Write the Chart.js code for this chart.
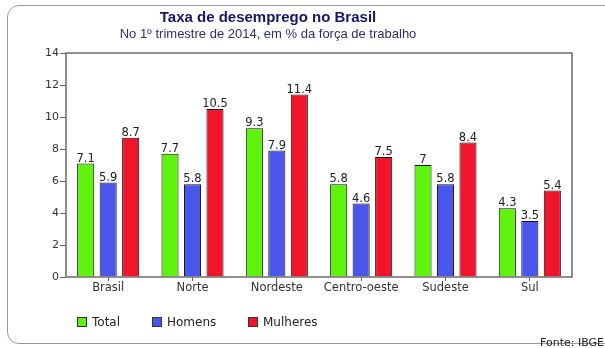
<!DOCTYPE html>
<html>
<head>
<meta charset="utf-8">
<script src="https://cdn.jsdelivr.net/npm/chart.js@4.4.1/dist/chart.umd.min.js"></script>
<style>
  html, body { margin: 0; padding: 0; background: #fff; }
  body { width: 605px; height: 348px; position: relative; overflow: hidden; font-family: "DejaVu Sans", sans-serif; }
  #frame { position: absolute; left: 7px; top: 5px; width: 610px; height: 339px; border: 1px solid #9a9a9a; border-radius: 12px; box-sizing: border-box; }
  #chart { position: absolute; left: 0; top: 0; }
  #title { position: absolute; left: 0; width: 536px; top: 8px; text-align: center; font-family: "Liberation Sans", Arial, sans-serif; font-size: 15px; font-weight: bold; color: #15156b; }
  #subtitle { position: absolute; left: 0; width: 536px; top: 26px; text-align: center; font-family: "Liberation Sans", Arial, sans-serif; font-size: 13px; color: #2b2f6e; }
  #legend { position: absolute; top: 315px; left: 0; font-size: 12px; color: #222; }
  #legend .item { position: absolute; white-space: nowrap; }
  #legend .box { display: inline-block; width: 10px; height: 10px; box-sizing: border-box; border: 1px solid #333; vertical-align: -1px; margin-right: 5px; }
  #source { position: absolute; right: 1px; top: 336px; font-size: 11px; color: #222; }
</style>
</head>
<body>
<div id="frame"></div>
<canvas id="chart" width="605" height="348"></canvas>
<div id="title">Taxa de desemprego no Brasil</div>
<div id="subtitle">No 1º trimestre de 2014, em % da força de trabalho</div>
<div id="legend"></div>
<div id="source">Fonte: IBGE</div>
<script>
const regioes = ['Brasil', 'Norte', 'Nordeste', 'Centro-oeste', 'Sudeste', 'Sul'];
const total = [7.1, 7.7, 9.3, 5.8, 7, 4.3];
const homens = [5.9, 5.8, 7.9, 4.6, 5.8, 3.5];
const mulheres = [8.7, 10.5, 11.4, 7.5, 8.4, 5.4];
const yTicks = [0, 2, 4, 6, 8, 10, 12, 14];

const seriesNames = ['Total', 'Homens', 'Mulheres'];
const seriesColors = ['#5ef20c', '#4b57ec', '#f0152a'];
const legendX = [77, 152, 248];

// moldura do gráfico
const framePlugin = {
    id: 'frame',
    afterDraw(chart) {
        const a = chart.chartArea;
        const ctx = chart.ctx;
        ctx.save();
        ctx.strokeStyle = '#6a6a6a';
        ctx.lineWidth = 1.5;
        ctx.strokeRect(a.left, a.top, a.right - a.left, a.bottom - a.top);
        ctx.restore();
    }
};

// valores em cima das barras
const valueLabels = {
    id: 'valueLabels',
    afterDatasetsDraw(chart) {
        const ctx = chart.ctx;
        ctx.save();
        ctx.font = '11.5px "DejaVu Sans", sans-serif';
        ctx.fillStyle = '#222';
        ctx.textAlign = 'center';
        ctx.textBaseline = 'bottom';
        chart.data.datasets.forEach((ds, i) => {
            chart.getDatasetMeta(i).data.forEach((bar, j) => {
                ctx.fillText(String(ds.data[j]), bar.x, bar.y + 1);
            });
        });
        ctx.restore();
    }
};

const chart = new Chart(document.getElementById('chart'), {
    type: 'bar',
    data: {
        labels: regioes,
        datasets: [total, homens, mulheres].map((d, i) => ({
            label: seriesNames[i],
            data: d,
            backgroundColor: seriesColors[i],
            borderColor: '#111',
            borderWidth: 1,
            categoryPercentage: 0.8,
            barPercentage: 0.76
        }))
    },
    options: {
        responsive: false,
        animation: false,
        layout: { padding: { left: 40, right: 33, top: 53, bottom: 49 } },
        plugins: {
            legend: { display: false },
            tooltip: { enabled: false }
        },
        scales: {
            x: {
                afterFit(scale) { scale.height = 22; },
                grid: { offset: false, drawOnChartArea: false, drawTicks: true, tickLength: 4, color: '#666' },
                border: { display: false },
                ticks: { color: '#333', font: { family: 'DejaVu Sans', size: 11.5 }, padding: 0 }
            },
            y: {
                min: 0,
                max: 14,
                afterFit(scale) { scale.width = 26; },
                afterBuildTicks(scale) { scale.ticks = yTicks.map(v => ({ value: v })); },
                grid: { drawOnChartArea: false, drawTicks: true, tickLength: 6, color: '#666' },
                border: { display: false },
                ticks: { color: '#333', font: { family: 'DejaVu Sans', size: 11 }, padding: 1 }
            }
        }
    },
    plugins: [framePlugin, valueLabels]
});

// legenda
const legend = document.getElementById('legend');
chart.data.datasets.forEach((ds, i) => {
    const item = document.createElement('span');
    item.className = 'item';
    item.style.left = legendX[i] + 'px';
    item.innerHTML = '<span class="box" style="background:' + ds.backgroundColor + '"></span>' + ds.label;
    legend.appendChild(item);
});
</script>
</body>
</html>
